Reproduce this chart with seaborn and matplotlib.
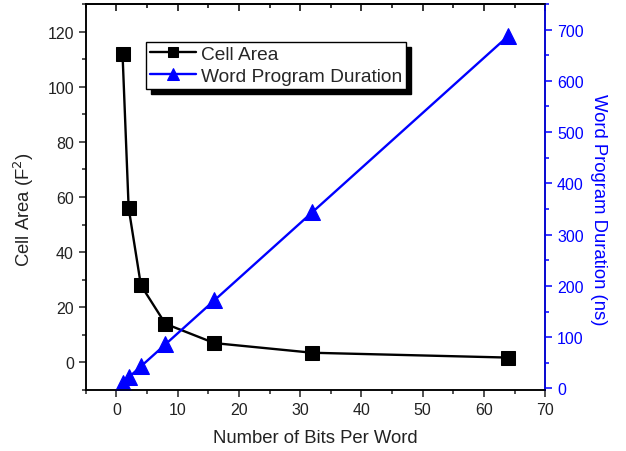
import matplotlib
matplotlib.use("Agg")
import matplotlib.pyplot as plt
from matplotlib.patches import Shadow
from matplotlib.ticker import MultipleLocator
import seaborn as sns
import pandas as pd

bits = [1, 2, 4, 8, 16, 32, 64]
cell_area = [112, 56, 28, 14, 7, 3.5, 1.75]
program_ns = [10.75, 21.5, 43, 86, 172, 344, 688]

sns.set_theme(style="white")
plt.rcParams["font.family"] = ["Liberation Sans", "DejaVu Sans"]

df = pd.DataFrame({"bits": bits, "area": cell_area, "ns": program_ns})

fig = plt.figure(figsize=(6.26, 4.52), dpi=100)
ax = fig.add_axes([0.137, 0.135, 0.734, 0.854])
ax2 = ax.twinx()

blue = "#0000ff"
ink = "#222222"

sns.lineplot(data=df, x="bits", y="area", ax=ax, color="black", marker="s",
             markersize=9.5, markeredgecolor="black", linewidth=1.7,
             label="Cell Area", legend=False)
sns.lineplot(data=df, x="bits", y="ns", ax=ax2, color=blue, marker="^",
             markersize=11, markeredgecolor=blue, linewidth=1.7,
             label="Word Program Duration", legend=False)

ax.set_xlim(-5, 70)
ax.set_ylim(-10, 130)
ax2.set_ylim(-3, 750)

ax.xaxis.set_major_locator(MultipleLocator(10))
ax.xaxis.set_minor_locator(MultipleLocator(5))
ax.yaxis.set_major_locator(MultipleLocator(20))
ax.yaxis.set_minor_locator(MultipleLocator(10))
ax2.yaxis.set_major_locator(MultipleLocator(100))
ax2.yaxis.set_minor_locator(MultipleLocator(50))

for a in (ax, ax2):
    for s in a.spines.values():
        s.set_linewidth(1.1)
        s.set_color("black")
ax2.spines["right"].set_color(blue)

ax.tick_params(axis="x", which="both", bottom=True, top=False, direction="out",
               labelsize=11.5, colors=ink)
ax.tick_params(axis="x", which="major", length=5, width=1.1)
ax.tick_params(axis="x", which="minor", length=3, width=1.1)
ax.tick_params(axis="y", which="both", left=True, right=False, direction="out",
               labelsize=11.5, colors=ink)
ax.tick_params(axis="y", which="major", length=5, width=1.1)
ax.tick_params(axis="y", which="minor", length=3, width=1.1)
ax2.tick_params(axis="y", which="both", right=True, direction="out",
                labelsize=11.5, colors=blue)
ax2.tick_params(axis="y", which="major", length=5, width=1.1)
ax2.tick_params(axis="y", which="minor", length=3, width=1.1)

# inward ticks along the top edge
top = ax.secondary_xaxis("top")
top.xaxis.set_major_locator(MultipleLocator(10))
top.xaxis.set_minor_locator(MultipleLocator(5))
top.tick_params(axis="x", which="both", direction="in", labeltop=False, colors="black")
top.tick_params(axis="x", which="major", length=5, width=1.1)
top.tick_params(axis="x", which="minor", length=3, width=1.1)
top.spines["top"].set_linewidth(1.1)

ax.set_xlabel("Number of Bits Per Word", fontsize=13.3, color=ink, labelpad=9)
ax.set_ylabel("Cell Area (F$^2$)", fontsize=13.3, color=ink, labelpad=8)
ax.yaxis.label.set_y(0.47)
ax2.set_ylabel("Word Program Duration (ns)", fontsize=13.3, color=blue,
               rotation=270, labelpad=17)
ax2.yaxis.label.set_y(0.47)

h1, l1 = ax.get_legend_handles_labels()
h2, l2 = ax2.get_legend_handles_labels()
leg = ax2.legend(h1 + h2, l1 + l2, loc="upper left", bbox_to_anchor=(0.132, 0.902),
                 borderaxespad=0, frameon=True, fancybox=False, fontsize=13.8,
                 handlelength=2.4, handletextpad=0.25, labelspacing=0.22,
                 borderpad=0.2, markerscale=0.75)
leg.get_frame().set_edgecolor("black")
leg.get_frame().set_linewidth(1.0)
leg.get_frame().set_alpha(1)

fig.canvas.draw()
shadow = Shadow(leg.legendPatch, 3.6, -3.6, facecolor="black", edgecolor="black", alpha=1)
shadow.set_zorder(leg.get_zorder() - 0.1)
ax2.add_artist(shadow)

fig.savefig("out.png", dpi=100)
